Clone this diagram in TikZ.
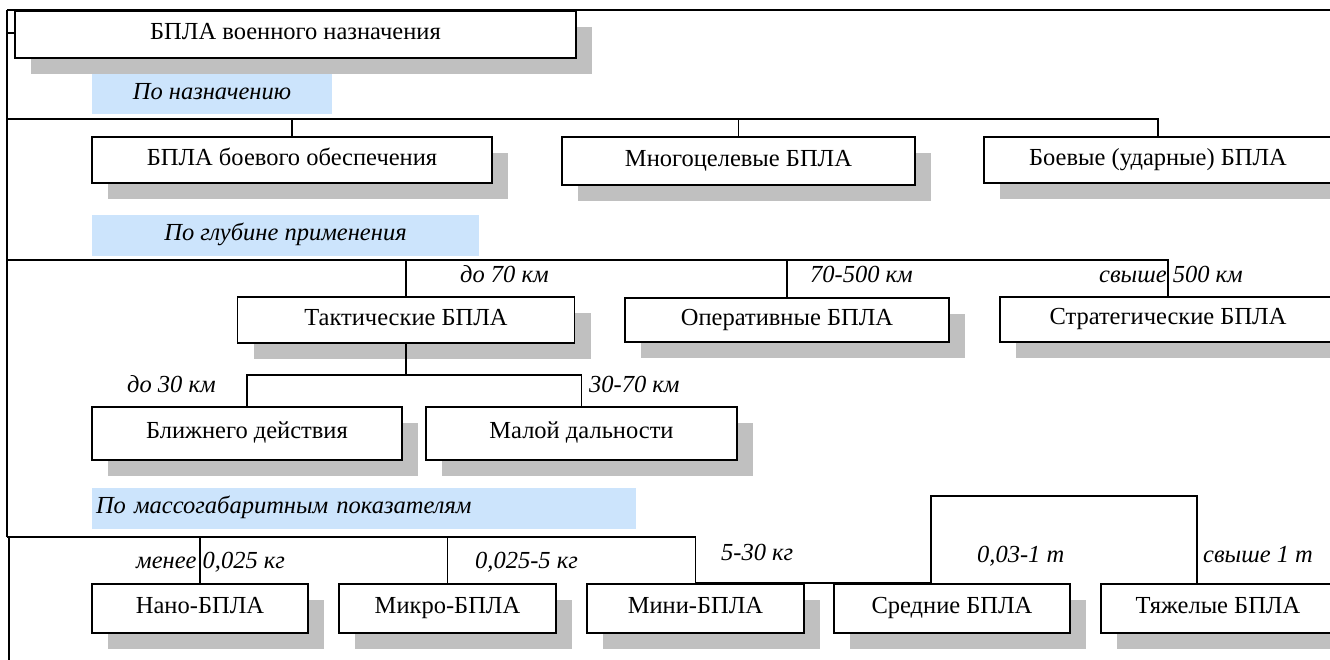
\documentclass[tikz,border=0pt]{standalone}
\usepackage{fontspec}
\setmainfont{Liberation Serif}
\usetikzlibrary{
    positioning,
    shadows
}
\definecolor{labelblue}{RGB}{204,228,252}
\definecolor{shadowgray}{RGB}{192,192,192}
\newcommand{\diagfont}{\fontsize{24.5pt}{29pt}\selectfont}
\tikzset{
    % Boxes
    unit box/.style={draw,fill=white,line width=1.6pt,inner sep=2pt,
        text height=17pt,text depth=7pt,
        drop shadow={shadow xshift=16pt,shadow yshift=-16pt,fill=shadowgray,opacity=1}},
    group label/.style={fill=labelblue,inner sep=2pt,font=\diagfont\itshape,
        text height=17pt,text depth=7pt},
    range label/.style={anchor=west,inner sep=0pt,font=\diagfont\itshape,
        text height=17pt,text depth=7pt},
    %
    % Lines
    link/.style={line width=1.6pt},
    frame/.style={line width=2.6pt}
}
\tikzstyle{every node}=[font=\diagfont]

\begin{document}
\begin{tikzpicture}[x=1pt,y=-1pt]
    \useasboundingbox (0,0) rectangle (1330,659);
    % frame
    \draw[frame] (7,537) -- (7,10);
    \draw[link] (7,10) -- (1340,10);
    \draw[link] (7,33) -- (15,33);
    \draw[link] (9,537) -- (9,665);
    \node[unit box,minimum width=561pt,minimum height=47pt] (military) at (295.5,34.5) {БПЛА военного назначения};

    % by purpose
    \node[group label,minimum width=240pt,minimum height=40pt] (purpose) at (212,94) {По назначению};
    \node[unit box,minimum width=400pt,minimum height=46pt] (support) at (292,160) {БПЛА боевого обеспечения};
    \node[unit box,minimum width=353pt,minimum height=48pt] (multi) at (738.5,161) {Многоцелевые БПЛА};
    \node[unit box,minimum width=348pt,minimum height=46pt] (strike) at (1158,160) {Боевые (ударные) БПЛА};
    \coordinate (bus 1) at (7,119);
    \draw[link] (bus 1) -| (strike.north);
    \draw[link] (support.north) -- (support.north |- bus 1);
    \draw[link] (multi.north) -- (multi.north |- bus 1);

    % by depth
    \node[group label,minimum width=387pt,minimum height=41pt] (depth) at (285.5,235.5) {По глубине применения};
    \node[unit box,minimum width=337pt,minimum height=46pt] (tactical) at (406,320) {Тактические БПЛА};
    \node[unit box,minimum width=324pt,minimum height=44pt] (operational) at (787,320) {Оперативные БПЛА};
    \node[unit box,minimum width=336pt,minimum height=45pt] (strategic) at (1168,319.5) {Стратегические БПЛА};
    \coordinate (bus 2) at (7,260);
    \draw[link] (bus 2) -| (strategic.north);
    \draw[link] (tactical.north) -- (tactical.north |- bus 2);
    \draw[link] (operational.north) -- (operational.north |- bus 2);
    \node[range label] at (460,277) {до 70 км};
    \node[range label] at (810,277) {70-500 км};
    \node[range label] at (1099,277) {свыше 500 км};

    \node[unit box,minimum width=310pt,minimum height=53pt] (close range) at (247,433.5) {Ближнего действия};
    \node[unit box,minimum width=311pt,minimum height=53pt] (short range) at (581.5,433.5) {Малой дальности};
    \draw[link] (tactical.south) -- ++(0,31) coordinate (split);
    \draw[link] (close range.north) |- (split) -| (short range.north);
    \node[range label] at (127,387) {до 30 км};
    \node[range label] at (589,387) {30-70 км};

    % by mass
    \node[group label,minimum width=544pt,minimum height=41pt,text width=536pt,align=left] (mass) at (364,508.5) {По массогабаритным показателям};
    \node[unit box,minimum width=216pt,minimum height=49pt] (nano) at (200,608.5) {Нано-БПЛА};
    \node[unit box,minimum width=217pt,minimum height=49pt] (micro) at (447.5,608.5) {Микро-БПЛА};
    \node[unit box,minimum width=217pt,minimum height=49pt] (mini) at (695.5,608.5) {Мини-БПЛА};
    \node[unit box,minimum width=236pt,minimum height=49pt] (medium) at (952,608.5) {Средние БПЛА};
    \node[unit box,minimum width=234pt,minimum height=49pt] (heavy) at (1218,608.5) {Тяжелые БПЛА};
    \coordinate (bus 3) at (7,537);
    \draw[link] (bus 3) -| (mini.north);
    \draw[link] (nano.north) -- (nano.north |- bus 3);
    \draw[link] (micro.north) -- (micro.north |- bus 3);
    \draw[link] (mini.north) -- ([xshift=-21pt]medium.north) -- ++(0,-87) -| ([xshift=-21pt]heavy.north);
    \node[range label] at (136,563) {менее 0,025 кг};
    \node[range label] at (475,563) {0,025-5 кг};
    \node[range label] at (721,555) {5-30 кг};
    \node[range label] at (977,557) {0,03-1 т};
    \node[range label] at (1203,557) {свыше 1 т};
\end{tikzpicture}
\end{document}
